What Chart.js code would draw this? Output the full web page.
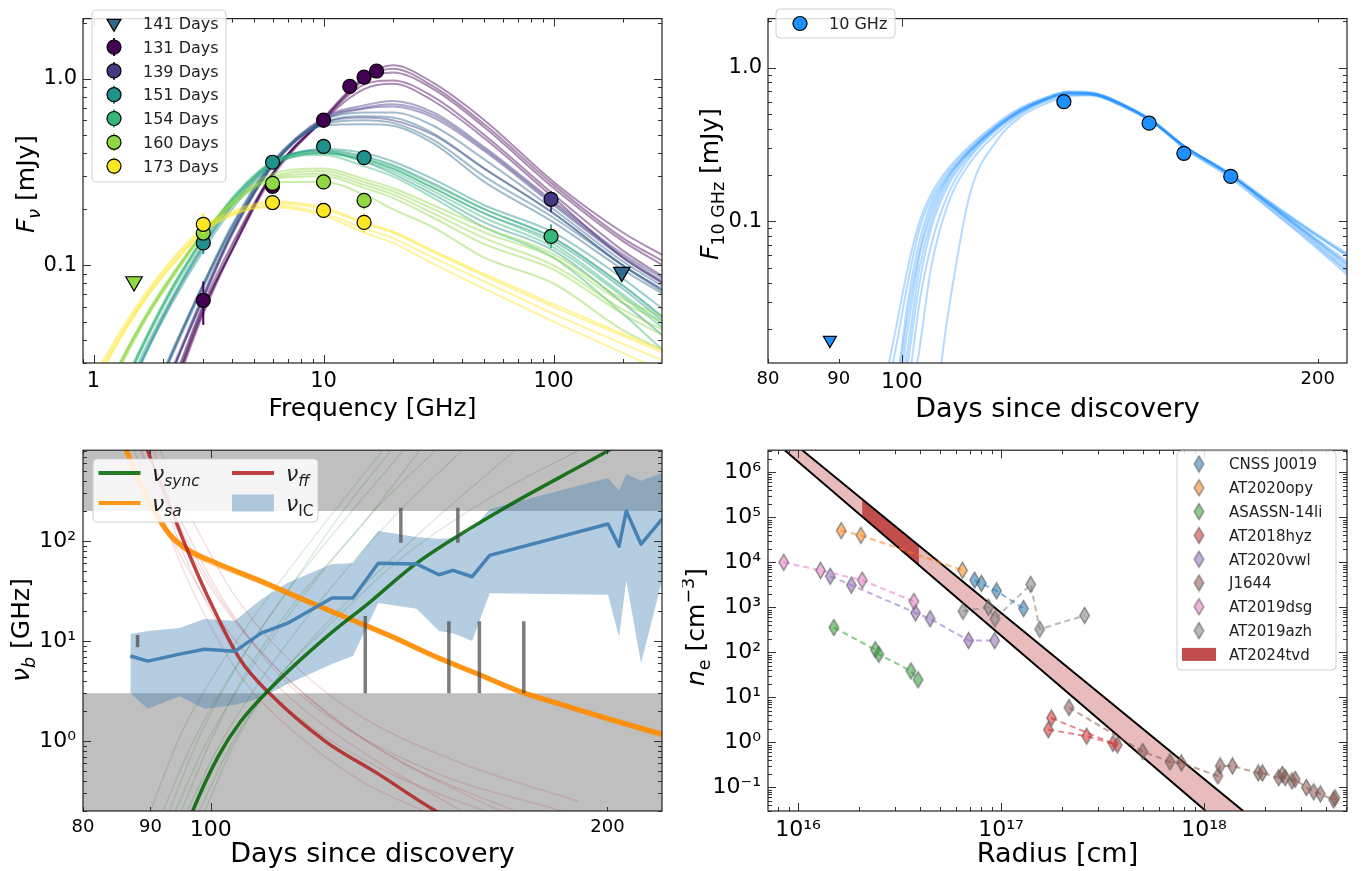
<!DOCTYPE html>
<html>
<head>
<meta charset="utf-8">
<title>AT2024tvd radio panels</title>
<script src="https://cdn.jsdelivr.net/npm/chart.js@4.4.1/dist/chart.umd.min.js"></script>
<style>
  html, body { margin: 0; padding: 0; background: #fff; }
  #fig { position: relative; width: 1364px; height: 871px; overflow: hidden; }
  #fig canvas { position: absolute; }
</style>
</head>
<body>
<div id="fig">
  <canvas id="sed" width="682" height="430" style="left:0;top:0"></canvas>
  <canvas id="lc" width="682" height="430" style="left:682px;top:0"></canvas>
  <canvas id="nub" width="682" height="441" style="left:0;top:430px"></canvas>
  <canvas id="dens" width="682" height="441" style="left:682px;top:430px"></canvas>
</div>
<script>
const FONT = '"DejaVu Sans", sans-serif'

// ---------- panel 1: spectra ----------
const freqGrid = [1, 1.3, 1.7, 2.2, 3, 4, 6, 10, 15, 20, 30, 50, 100, 200, 300]
const epochNames = ['131 Days', '139 Days', '141 Days', '151 Days', '154 Days', '160 Days', '173 Days']
const epochColors = ['#440154', '#443983', '#31688e', '#21918c', '#35b779', '#90d743', '#fde725']

const sed131 = [
  [.002, .004, .009, .02, .055, .12, .31, .62, 1.02, 1.18, .95, .6, .28, .15, .113],
  [.002, .004, .01, .022, .06, .12, .30, .60, .93, .98, .8, .5, .24, .12, .087],
  [.002, .004, .009, .021, .058, .12, .31, .61, .98, 1.08, .88, .55, .26, .135, .1],
  [.002, .005, .01, .023, .062, .13, .31, .6, .88, .94, .76, .48, .23, .11, .08],
  [.002, .004, .009, .021, .057, .125, .31, .61, 1.0, 1.13, .91, .57, .27, .14, .105]
]
const sed139 = [
  [.003, .006, .012, .027, .068, .15, .35, .62, .72, .76, .66, .43, .22, .115, .085],
  [.003, .006, .013, .028, .07, .15, .34, .58, .62, .6, .5, .33, .19, .1, .074],
  [.003, .006, .012, .027, .066, .145, .34, .6, .69, .71, .62, .41, .21, .11, .08],
  [.003, .006, .012, .027, .067, .148, .345, .61, .7, .73, .64, .42, .215, .112, .082]
]
const sed141 = [
  [.004, .008, .016, .034, .078, .16, .35, .57, .6, .58, .47, .3, .18, .1, .073],
  [.004, .008, .016, .033, .076, .155, .345, .56, .57, .56, .45, .28, .17, .095, .07],
  [.004, .008, .017, .035, .08, .165, .36, .6, .66, .66, .56, .37, .2, .105, .077],
  [.004, .008, .016, .034, .079, .16, .355, .58, .63, .62, .51, .33, .19, .1, .072]
]
const sed151 = [
  [.008, .017, .035, .065, .125, .21, .35, .42, .4, .36, .29, .21, .15, .085, .058],
  [.008, .016, .034, .063, .12, .2, .34, .4, .37, .33, .26, .19, .135, .075, .05],
  [.009, .018, .037, .068, .13, .22, .36, .41, .36, .31, .24, .17, .12, .063, .042],
  [.008, .017, .035, .066, .127, .21, .35, .415, .385, .345, .275, .2, .14, .078, .052]
]
const sed154 = [
  [.01, .02, .04, .073, .135, .22, .35, .4, .36, .32, .25, .18, .125, .068, .046],
  [.01, .02, .041, .075, .14, .225, .35, .39, .34, .3, .23, .16, .11, .055, .035],
  [.01, .021, .042, .077, .14, .23, .36, .41, .38, .34, .27, .2, .14, .078, .053],
  [.01, .02, .041, .076, .14, .226, .355, .4, .37, .33, .26, .19, .13, .07, .048]
]
const sed160 = [
  [.014, .028, .052, .085, .145, .21, .3, .32, .28, .25, .2, .15, .11, .063, .05],
  [.015, .03, .055, .09, .15, .215, .29, .3, .26, .23, .18, .13, .095, .055, .042],
  [.014, .029, .053, .087, .148, .22, .31, .33, .29, .26, .21, .16, .115, .066, .053],
  [.015, .03, .054, .088, .15, .21, .28, .28, .24, .2, .16, .11, .08, .045, .035],
  [.014, .029, .054, .088, .15, .215, .295, .31, .27, .24, .19, .14, .1, .058, .045]
]
const sed173 = [
  [.024, .042, .07, .105, .155, .19, .215, .2, .168, .15, .118, .088, .06, .042, .034],
  [.022, .04, .067, .1, .15, .185, .21, .19, .158, .14, .11, .082, .055, .038, .031],
  [.025, .044, .072, .108, .16, .195, .22, .205, .17, .152, .12, .09, .062, .043, .035],
  [.023, .041, .068, .102, .152, .188, .205, .185, .15, .132, .102, .075, .05, .034, .027]
]
// [GHz, mJy, low, high]
const det131 = [[3, .065, .048, .082], [6, .265, .245, .285], [10, .60, .545, .65], [13, .91, .85, .97], [15, 1.02, .95, 1.09], [17, 1.10, 1.03, 1.17]]
const det139 = [[97.5, .226, .193, .25]]
const det151 = [[3, .132, .115, .15], [6, .357, .33, .385], [10, .434, .40, .47], [15, .378, .35, .41]]
const det154 = [[97.5, .143, .124, .166]]
const det160 = [[3, .149, .135, .165], [6, .275, .255, .295], [10, .28, .255, .305], [15, .223, .2, .245]]
const det173 = [[3, .166, .148, .19], [6, .217, .2, .235], [10, .197, .18, .215], [15, .170, .15, .19]]
const lim141 = [[198, .092]]
const lim160 = [[1.5, .082]]

// ---------- panel 2: 10 GHz light curve ----------
const lcDays = [97, 99, 101, 103, 105, 108, 112, 117, 122, 127, 132, 137, 145, 152, 160, 173, 185, 200, 210]
const lcModels = [
  [.004, .008, .03, .075, .13, .2, .29, .41, .53, .62, .68, .68, .57, .45, .31, .2, .125, .072, .05],
  [.002, .005, .015, .05, .1, .18, .28, .4, .52, .62, .68, .67, .56, .44, .31, .2, .128, .076, .055],
  [.006, .015, .04, .09, .14, .21, .3, .42, .54, .63, .69, .68, .56, .44, .3, .195, .12, .068, .047],
  [.001, .003, .008, .03, .07, .15, .26, .39, .51, .61, .67, .67, .56, .44, .31, .2, .13, .08, .06],
  [.003, .006, .02, .06, .11, .19, .285, .41, .53, .63, .69, .685, .57, .45, .31, .2, .124, .07, .048],
  [.008, .02, .05, .1, .15, .22, .31, .43, .55, .64, .7, .69, .57, .44, .3, .19, .118, .066, .045],
  [.001, .002, .005, .015, .05, .13, .24, .37, .5, .6, .66, .66, .55, .44, .31, .205, .133, .082, .062],
  [.002, .004, .012, .04, .09, .17, .27, .4, .52, .62, .68, .67, .56, .44, .305, .198, .126, .074, .053],
  [.0002, .0005, .001, .002, .004, .025, .15, .33, .48, .58, .65, .66, .55, .44, .31, .2, .13, .08, .06],
  [.003, .007, .025, .065, .12, .195, .29, .41, .53, .62, .68, .675, .565, .445, .31, .2, .127, .074, .052]
]
const lcDet = [[131, .60], [151, .435], [160, .277], [173, .196]]
const lcLim = [[88.7, .0169]]

// ---------- panel 3: break frequencies ----------
const saDays = [86, 88, 90, 93, 96, 101, 109, 118, 127, 137, 148, 160, 172, 186, 200, 220]
const saNu = [900, 430, 235, 118, 82, 60, 40, 25.5, 17, 11.2, 7.0, 4.6, 3.1, 2.25, 1.68, 1.17]
const saDraws = [
  [1000, 470, 255, 126, 87, 63, 42, 26.5, 17.6, 11.6, 7.3, 4.8, 3.25, 2.35, 1.76, 1.24],
  [800, 390, 215, 110, 77, 56, 38, 24.3, 16.3, 10.7, 6.7, 4.4, 2.95, 2.15, 1.6, 1.1],
  [950, 450, 245, 122, 85, 62, 41, 26, 17.3, 11.4, 7.1, 4.7, 3.15, 2.3, 1.72, 1.2]
]
const ffDays = [88.5, 89.6, 92.6, 95.6, 99.6, 105.3, 111.1, 122.1, 134, 148.2, 152]
const ffNu = [1400, 794, 271, 93, 27, 6.5, 2.9, 1.0, 0.47, 0.2, 0.17]
const ffDraws = [
  [[87, 1000], [90, 300], [94, 90], [100, 22], [108, 6], [118, 2], [132, .7], [155, .2]],
  [[88, 1000], [91, 350], [95, 110], [101, 28], [110, 7], [122, 2], [140, .6], [170, .2]],
  [[89, 1000], [92, 330], [96, 100], [102, 25], [110, 7], [120, 2.4], [135, .8], [160, .25], [175, .15]],
  [[90, 1000], [93, 300], [97, 90], [103, 22], [112, 5], [125, 1.5], [150, .45], [185, .2]],
  [[88, 1000], [91, 260], [94, 80], [99, 18], [106, 4], [116, 1.2], [130, .4], [145, .2]],
  [[91, 1000], [94, 350], [98, 120], [104, 30], [114, 7], [128, 2], [155, .6], [190, .25]],
  [[89, 1000], [92, 280], [95, 85], [100, 20], [107, 5], [119, 1.4], [138, .45], [165, .18]]
]
const syncDays = [95.5, 96.9, 101.3, 105.3, 111.1, 122.1, 132.3, 142.9, 165.6, 200, 206]
const syncNu = [0.12, 0.2, 0.7, 1.55, 3.4, 10.7, 25, 58.5, 200, 794, 1000]
const syncDraws = [
  [[90, .2], [95, 1.2], [101, 5], [110, 25], [122, 150], [135, 800]],
  [[92, .2], [97, 1], [104, 5], [114, 30], [128, 200], [140, 800]],
  [[94, .2], [99, .9], [107, 5], [118, 30], [133, 200], [148, 800]],
  [[96, .2], [101, .8], [109, 4], [121, 25], [138, 180], [155, 800]],
  [[98, .2], [104, 1], [112, 4], [125, 20], [145, 130], [170, 800]],
  [[93, .2], [98, 1.1], [105, 6], [115, 35], [126, 200], [137, 800]],
  [[99, .2], [104, .9], [111, 3.5], [122, 13], [140, 70], [165, 300], [190, 800]],
  [[95, .2], [100, 1], [106, 4.5], [116, 25], [130, 140], [144, 800]]
]
const icDays = [86.9, 89.6, 94.7, 98.9, 104.3, 109.2, 114.3, 123.6, 128.2, 134.0, 143.3, 149.0, 152.7, 157.9, 162.8, 200.2, 204.1, 206.7, 212.1, 220]
const icNu = [7.1, 6.3, 7.4, 8.3, 7.9, 12, 15, 27, 27, 60, 59, 46, 51, 44, 72, 148, 89, 200, 93, 166]
const icHi = [11.8, 12.6, 13.5, 16.6, 16, 26, 38, 59, 60, 126, 110, 105, 107, 130, 209, 427, 316, 468, 400, 480]
const icLo = [3.0, 2.1, 2.8, 2.1, 2.3, 2.7, 3.7, 5.9, 7.1, 24, 21, 12.6, 12, 10, 30, 29, 11, 40, 6, 40]
// [day, lowest GHz, highest GHz]
const obsBars = [[88, 8.7, 11.5], [131, 3, 17.8], [139.4, 96, 215], [151.6, 3, 15.8], [154, 96, 215], [159.9, 3, 15.8], [172.8, 3, 15.8]]
const bandLimits = [3, 200]

// ---------- panel 4: density profiles ----------
const tdeNames = ['CNSS J0019', 'AT2020opy', 'ASASSN-14li', 'AT2018hyz', 'AT2020vwl', 'J1644', 'AT2019dsg', 'AT2019azh']
const tdeColors = ['#1f77b4', '#ff7f0e', '#2ca02c', '#d62728', '#9467bd', '#8c564b', '#e377c2', '#7f7f7f']
const cnss = [[7.4e16, 4040], [8.0e16, 3420], [9.5e16, 2330], [1.29e17, 944]]
const opy = [[1.63e16, 5.1e4], [2.04e16, 4.0e4], [6.46e16, 6700]]
const asassn = [[1.50e16, 359], [2.40e16, 115], [2.5e16, 91], [3.6e16, 38.8], [3.9e16, 24.7]]
const hyzA = [[1.71e17, 1.92], [2.64e17, 1.38], [3.74e17, 0.88]]
const hyzB = [[1.77e17, 3.5], [3.56e17, 0.95]]
const vwl = [[1.44e16, 4930], [1.83e16, 3140], [3.79e16, 760], [4.47e16, 562], [6.92e16, 184], [9.3e16, 184]]
const j1644 = [[2.16e17, 5.98], [4.99e17, .63], [6.79e17, .37], [7.73e17, .35], [1.17e18, .18], [1.20e18, .30], [1.38e18, .30], [1.85e18, .21], [1.94e18, .21], [2.33e18, .165], [2.43e18, .195], [2.51e18, .165], [2.71e18, .14], [2.81e18, .152], [3.19e18, .1], [3.47e18, .08], [3.74e18, .072], [4.35e18, .053], [4.41e18, .059]]
const dsg = [[8.5e15, 1.01e4], [1.29e16, 6660], [2.07e16, 4040], [3.72e16, 1360]]
const azh = [[6.49e16, 826], [8.66e16, 1008], [9.33e16, 560], [1.40e17, 3250], [1.55e17, 330], [2.58e17, 665]]
const tdeSeries = [[cnss], [opy], [asassn], [hyzA, hyzB], [vwl], [j1644], [dsg], [azh]]
const tvdEdgeLo = [[8.6e15, 3.1e6], [1.02e18, 0.03]]
const tvdEdgeHi = [[1.05e16, 3.1e6], [1.56e18, 0.03]]
const tvdMeasured = [[2.07e16, 2.52e5], [3.94e16, 2.35e4], [3.94e16, 8.6e3], [2.07e16, 1.035e5]]

// ---------- helpers ----------
const hexA = (h, a) => {
  const n = parseInt(h.slice(1), 16)
  return `rgba(${n >> 16},${(n >> 8) & 255},${n & 255},${a})`
}
const pts = (xs, ys) => ys.map((v, i) => ({x: xs[i], y: v}))
const pairs = arr => arr.map(p => ({x: p[0], y: p[1]}))
const stack = list => list.map((d, i) => Object.assign({order: list.length - i}, d))

function curve(data, color, width, extra) {
  return Object.assign({data, showLine: true, borderColor: color, borderWidth: width, pointRadius: 0,
    cubicInterpolationMode: 'monotone', fill: false}, extra || {})
}
const straight = {cubicInterpolationMode: 'default', tension: 0}

function logMinor(lo, hi) {
  const out = []
  for (let e = Math.floor(Math.log10(lo)); e <= Math.ceil(Math.log10(hi)); e++) {
    for (let k = 2; k <= 9; k++) {
      const v = k * Math.pow(10, e)
      if (v >= lo * 0.999 && v <= hi * 1.001) out.push(v)
    }
  }
  return out
}

const SUP = {'-': '⁻', '0': '⁰', '1': '¹', '2': '²', '3': '³', '4': '⁴', '5': '⁵', '6': '⁶', '7': '⁷', '8': '⁸', '9': '⁹'}
const pow10 = v => '10' + String(Math.round(Math.log10(v))).split('').map(c => SUP[c]).join('')

function richText(ctx, parts, x, y, size, align, color) {
  const segs = parts.map(p => {
    const s = (p.sub || p.sup) ? size * 0.7 : size
    const f = (p.it ? 'italic ' : '') + s.toFixed(1) + 'px ' + FONT
    ctx.font = f
    return {t: p.t, f, w: ctx.measureText(p.t).width, dy: p.sub ? size * 0.24 : p.sup ? -size * 0.42 : 0}
  })
  const total = segs.reduce((a, s) => a + s.w, 0)
  let cx = align === 'center' ? x - total / 2 : x
  const base = y + size * 0.36
  ctx.fillStyle = color || '#000'
  ctx.textBaseline = 'alphabetic'
  ctx.textAlign = 'left'
  segs.forEach(s => { ctx.font = s.f; ctx.fillText(s.t, cx, base + s.dy); cx += s.w })
}

function thinDiamond(fill, edge) {
  const c = document.createElement('canvas')
  c.width = 13; c.height = 19
  const g = c.getContext('2d')
  g.beginPath()
  g.moveTo(6.5, 1.5); g.lineTo(11.2, 9.5); g.lineTo(6.5, 17.5); g.lineTo(1.8, 9.5); g.closePath()
  g.fillStyle = fill; g.fill()
  g.lineWidth = 1.3; g.strokeStyle = edge; g.stroke()
  return c
}

function drawMark(ctx, m, x, y) {
  ctx.save()
  if (m.kind === 'circle' || m.kind === 'tri') {
    if (m.err) {
      ctx.strokeStyle = m.fill; ctx.lineWidth = 2
      ctx.beginPath(); ctx.moveTo(x, y - 9); ctx.lineTo(x, y + 9); ctx.stroke()
    }
    ctx.beginPath()
    if (m.kind === 'circle') ctx.arc(x, y, m.r, 0, Math.PI * 2)
    else { ctx.moveTo(x - m.r * 0.87, y - m.r * 0.5); ctx.lineTo(x + m.r * 0.87, y - m.r * 0.5); ctx.lineTo(x, y + m.r); ctx.closePath() }
    ctx.fillStyle = m.fill; ctx.fill()
    ctx.lineWidth = 1.2; ctx.strokeStyle = '#000'; ctx.stroke()
  } else if (m.kind === 'line') {
    ctx.strokeStyle = m.color; ctx.lineWidth = m.w
    ctx.beginPath(); ctx.moveTo(x - m.half, y); ctx.lineTo(x + m.half, y); ctx.stroke()
  } else if (m.kind === 'patch') {
    ctx.fillStyle = m.color
    ctx.fillRect(x - m.half, y - m.h / 2, m.half * 2, m.h)
  } else if (m.kind === 'img') {
    ctx.drawImage(m.img, x - m.img.width / 2, y - m.img.height / 2)
  }
  ctx.restore()
}

// one decoration plugin per panel: error bars, inward ticks, frame, legend, y title
function decor(cfg) {
  return {
    id: 'decor',
    beforeDatasetDraw(chart, args) {
      const ds = chart.data.datasets[args.index]
      if (!ds.errColor) return
      const {ctx, scales: {x, y}} = chart
      ctx.save()
      ctx.strokeStyle = ds.errColor; ctx.lineWidth = 2
      ds.data.forEach(p => {
        const px = x.getPixelForValue(p.x)
        ctx.beginPath(); ctx.moveTo(px, y.getPixelForValue(p.lo)); ctx.lineTo(px, y.getPixelForValue(p.hi)); ctx.stroke()
      })
      ctx.restore()
    },
    afterDatasetsDraw(chart) {
      const {ctx, chartArea: a, scales: {x, y}} = chart
      ctx.save()
      ctx.strokeStyle = '#333'; ctx.lineWidth = 1
      const mark = (scale, vals, len) => vals.forEach(v => {
        if (v < scale.min || v > scale.max) return
        const p = Math.round(scale.getPixelForValue(v)) + 0.5
        ctx.beginPath()
        if (scale.isHorizontal()) {
          ctx.moveTo(p, a.bottom); ctx.lineTo(p, a.bottom - len)
          ctx.moveTo(p, a.top); ctx.lineTo(p, a.top + len)
        } else {
          ctx.moveTo(a.left, p); ctx.lineTo(a.left + len, p)
          ctx.moveTo(a.right, p); ctx.lineTo(a.right - len, p)
        }
        ctx.stroke()
      })
      mark(x, cfg.xTicks[0], 8); mark(x, cfg.xTicks[1], 4)
      mark(y, cfg.yTicks[0], 8); mark(y, cfg.yTicks[1], 4)
      ctx.strokeStyle = '#222'; ctx.lineWidth = 1.2
      ctx.strokeRect(a.left, a.top, a.right - a.left, a.bottom - a.top)
      ctx.restore()
    },
    afterDraw(chart) {
      const ctx = chart.ctx
      const L = cfg.legend
      if (L) {
        const [bx, by, bw, bh] = L.box
        ctx.save()
        ctx.beginPath()
        ctx.moveTo(bx + 4, by); ctx.arcTo(bx + bw, by, bx + bw, by + bh, 4); ctx.arcTo(bx + bw, by + bh, bx, by + bh, 4)
        ctx.arcTo(bx, by + bh, bx, by, 4); ctx.arcTo(bx, by, bx + bw, by, 4); ctx.closePath()
        ctx.fillStyle = 'rgba(255,255,255,0.85)'; ctx.fill()
        ctx.strokeStyle = '#cfcfcf'; ctx.lineWidth = 1; ctx.stroke()
        L.items.forEach((it, k) => {
          const col = L.cols[it.col || 0]
          const row = it.row !== undefined ? it.row : k
          const yy = L.y0 + row * L.dy
          drawMark(ctx, it.mark, col.mx, yy)
          richText(ctx, it.text, col.tx, yy, L.size, 'left', '#222')
        })
        ctx.restore()
      }
      const T = cfg.ytitle
      if (T) {
        ctx.save()
        ctx.translate(T.x, T.y); ctx.rotate(-Math.PI / 2)
        richText(ctx, T.parts, 0, 0, T.size, 'center', '#000')
        ctx.restore()
      }
    }
  }
}

function logScale(o, axis, band) {
  return {
    type: 'logarithmic', min: o.min, max: o.max, bounds: 'data',
    grid: {display: false, drawTicks: false}, border: {display: false},
    afterBuildTicks: s => { s.ticks = o.labels.map(v => ({value: v})) },
    afterFit: s => { if (axis === 'x') s.height = band; else s.width = band },
    ticks: {
      autoSkip: false, maxRotation: 0, padding: o.pad, color: '#000',
      callback: v => o.fmt(v),
      font: c => ({family: FONT, size: (o.big && c.tick && c.tick.value === o.big) ? o.bigSize : o.size})
    },
    title: o.title
      ? {display: true, text: o.title, color: '#000', font: {family: FONT, size: o.titleSize}, padding: {top: 0, bottom: o.titlePad}}
      : {display: false}
  }
}

function baseOptions(c) {
  const [l, t, r, b] = c.area
  return {
    responsive: false, animation: false, devicePixelRatio: 1,
    layout: {padding: {left: 0, top: t, right: c.W - r, bottom: 0}},
    scales: {x: logScale(c.x, 'x', c.H - b), y: logScale(c.y, 'y', l)},
    plugins: {legend: {display: false}, tooltip: {enabled: false}},
    elements: {line: {borderJoinStyle: 'round'}}
  }
}

// ---------- panel 1 ----------
const sedModels = [sed131, sed139, sed141, sed151, sed154, sed160, sed173]
const sedDets = [det131, det139, [], det151, det154, det160, det173]
const sedSets = []
sedModels.forEach((group, e) => group.forEach(vals =>
  sedSets.push(curve(pts(freqGrid, vals), hexA(epochColors[e], 0.45), 2))))
sedDets.forEach((d, e) => {
  if (!d.length) return
  sedSets.push({data: d.map(p => ({x: p[0], y: p[1], lo: p[2], hi: p[3]})), showLine: false,
    pointRadius: 7, pointBackgroundColor: epochColors[e], pointBorderColor: '#000', pointBorderWidth: 1.2, errColor: epochColors[e]})
})
const triangles = (d, color) => ({data: pairs(d), showLine: false, pointStyle: 'triangle', pointRotation: 180,
  pointRadius: 9.5, pointBackgroundColor: color, pointBorderColor: '#000', pointBorderWidth: 1.2})
sedSets.push(triangles(lim141, epochColors[2]), triangles(lim160, epochColors[5]))

const sedLegendOrder = [2, 0, 1, 3, 4, 5, 6]
new Chart(document.getElementById('sed'), {
  type: 'scatter',
  data: {datasets: stack(sedSets)},
  options: baseOptions({
    area: [83, 2, 662, 363], W: 682, H: 430,
    x: {min: 0.9, max: 296, labels: [1, 10, 100], fmt: v => String(v), size: 21, pad: 6, title: 'Frequency [GHz]', titleSize: 25, titlePad: 6},
    y: {min: 0.03, max: 2.1, labels: [0.1, 1], fmt: v => v >= 1 ? '1.0' : '0.1', size: 21, pad: 6}
  }),
  plugins: [decor({
    xTicks: [[1, 10, 100], logMinor(0.9, 296)],
    yTicks: [[0.1, 1], logMinor(0.03, 2.1)],
    legend: {
      box: [92, 10, 134, 172], y0: 23.3, dy: 23.8, size: 16, cols: [{mx: 114, tx: 143}],
      items: sedLegendOrder.map(e => ({
        mark: e === 2 ? {kind: 'tri', r: 8, fill: epochColors[e]} : {kind: 'circle', r: 7, fill: epochColors[e], err: true},
        text: [{t: epochNames[e]}]
      }))
    },
    ytitle: {x: 25, y: 184, size: 25, parts: [{t: 'F', it: 1}, {t: 'ν', it: 1, sub: 1}, {t: ' [mJy]'}]}
  })]
})

// ---------- panel 2 ----------
const LC_BLUE = '#1e90ff'
const lcSets = lcModels.map(vals => curve(pts(lcDays, vals), hexA(LC_BLUE, 0.33), 2))
lcSets.push({data: pairs(lcDet), showLine: false, pointRadius: 7, pointBackgroundColor: LC_BLUE, pointBorderColor: '#000', pointBorderWidth: 1.2})
lcSets.push({data: pairs(lcLim), showLine: false, pointStyle: 'triangle', pointRotation: 180, pointRadius: 7.5,
  pointBackgroundColor: LC_BLUE, pointBorderColor: '#000', pointBorderWidth: 1.2})

new Chart(document.getElementById('lc'), {
  type: 'scatter',
  data: {datasets: stack(lcSets)},
  options: baseOptions({
    area: [86, 2, 665, 363], W: 682, H: 430,
    x: {min: 80, max: 210, labels: [80, 90, 100, 200], fmt: v => String(v), size: 18, big: 100, bigSize: 22, pad: 6,
      title: 'Days since discovery', titleSize: 27, titlePad: 4},
    y: {min: 0.012, max: 2.08, labels: [0.1, 1], fmt: v => v >= 1 ? '1.0' : '0.1', size: 21, pad: 6}
  }),
  plugins: [decor({
    xTicks: [[100], [80, 90, 200]],
    yTicks: [[0.1, 1], logMinor(0.012, 2.08)],
    legend: {
      box: [94, 9, 119, 29], y0: 23.5, dy: 0, size: 16, cols: [{mx: 118, tx: 147}],
      items: [{mark: {kind: 'circle', r: 7, fill: LC_BLUE}, text: [{t: '10 GHz'}]}]
    },
    ytitle: {x: 27, y: 184, size: 25, parts: [{t: 'F', it: 1}, {t: '10 GHz', sub: 1}, {t: ' [mJy]'}]}
  })]
})

// ---------- panel 3 ----------
const SYNC = 'rgba(0,100,0,0.85)', FF = 'rgba(178,34,34,0.85)', SA = 'rgba(255,140,0,0.9)', IC = '#4682b4'
const clear = 'rgba(0,0,0,0)'
const nubSets = [
  curve(pairs([[80, bandLimits[1]], [220, bandLimits[1]]]), clear, 0, Object.assign({fill: 'end', backgroundColor: 'rgba(128,128,128,0.5)'}, straight)),
  curve(pairs([[80, bandLimits[0]], [220, bandLimits[0]]]), clear, 0, Object.assign({fill: 'start', backgroundColor: 'rgba(128,128,128,0.5)'}, straight)),
  curve(pts(icDays, icLo), clear, 0, straight),
  curve(pts(icDays, icHi), clear, 0, Object.assign({fill: '-1', backgroundColor: 'rgba(70,130,180,0.4)'}, straight))
]
ffDraws.forEach(d => nubSets.push(curve(pairs(d), 'rgba(178,34,34,0.14)', 1.5)))
syncDraws.forEach(d => nubSets.push(curve(pairs(d), 'rgba(0,100,0,0.13)', 1.5)))
saDraws.forEach(v => nubSets.push(curve(pts(saDays, v), 'rgba(255,140,0,0.25)', 2)))
nubSets.push(curve(pts(saDays, saNu), SA, 5))
nubSets.push(curve(pts(ffDays, ffNu), FF, 3.5))
nubSets.push(curve(pts(syncDays, syncNu), SYNC, 3.5))
nubSets.push(curve(pts(icDays, icNu), IC, 3.5, straight))
obsBars.forEach(b => nubSets.push(curve(pairs([[b[0], b[1]], [b[0], b[2]]]), 'rgba(70,70,70,0.7)', 3.5, straight)))

new Chart(document.getElementById('nub'), {
  type: 'scatter',
  data: {datasets: stack(nubSets)},
  options: baseOptions({
    area: [83, 19, 662, 381], W: 682, H: 441,
    x: {min: 80, max: 220, labels: [80, 90, 100, 200], fmt: v => String(v), size: 18, big: 100, bigSize: 22, pad: 6,
      title: 'Days since discovery', titleSize: 27, titlePad: 0},
    y: {min: 0.2, max: 810, labels: [1, 10, 100], fmt: pow10, size: 22, pad: 7}
  }),
  plugins: [decor({
    xTicks: [[100], [80, 90, 200]],
    yTicks: [[1, 10, 100], logMinor(0.2, 810)],
    legend: {
      box: [93, 29, 225, 63], y0: 43, dy: 30, size: 22,
      cols: [{mx: 119.5, tx: 152}, {mx: 253, tx: 286}],
      items: [
        {col: 0, row: 0, mark: {kind: 'line', color: SYNC, w: 4, half: 21}, text: [{t: 'ν', it: 1}, {t: 'sync', it: 1, sub: 1}]},
        {col: 0, row: 1, mark: {kind: 'line', color: SA, w: 4, half: 21}, text: [{t: 'ν', it: 1}, {t: 'sa', it: 1, sub: 1}]},
        {col: 1, row: 0, mark: {kind: 'line', color: FF, w: 4, half: 21}, text: [{t: 'ν', it: 1}, {t: 'ff', it: 1, sub: 1}]},
        {col: 1, row: 1, mark: {kind: 'patch', color: 'rgba(70,130,180,0.4)', half: 21, h: 17}, text: [{t: 'ν', it: 1}, {t: 'IC', sub: 1}]}
      ]
    },
    ytitle: {x: 20, y: 200, size: 25, parts: [{t: 'ν', it: 1}, {t: 'b', it: 1, sub: 1}, {t: ' [GHz]'}]}
  })]
})

// ---------- panel 4 ----------
const diamonds = tdeColors.map(c => thinDiamond(hexA(c, 0.55), 'rgba(100,100,100,0.8)'))
const densSets = [
  curve(pairs([tvdEdgeLo[0], tvdEdgeLo[1], tvdEdgeHi[1], tvdEdgeHi[0]]), clear, 0, Object.assign({fill: 'shape', backgroundColor: 'rgba(178,34,34,0.3)'}, straight)),
  curve(pairs(tvdMeasured), clear, 0, Object.assign({fill: 'shape', backgroundColor: 'rgba(178,34,34,0.72)'}, straight)),
  curve(pairs(tvdEdgeLo), '#000', 2, straight),
  curve(pairs(tvdEdgeHi), '#000', 2, straight)
]
tdeSeries.forEach((group, k) => group.forEach(s => densSets.push({
  data: pairs(s), showLine: true, borderColor: hexA(tdeColors[k], 0.55), borderWidth: 2, borderDash: [6, 4],
  tension: 0, pointStyle: diamonds[k], pointRadius: 6
})))

new Chart(document.getElementById('dens'), {
  type: 'scatter',
  data: {datasets: stack(densSets)},
  options: baseOptions({
    area: [86, 12, 665, 381], W: 682, H: 441,
    x: {min: 7.11e15, max: 5.06e18, labels: [1e16, 1e17, 1e18], fmt: pow10, size: 22, pad: 6, title: 'Radius [cm]', titleSize: 27, titlePad: 0},
    y: {min: 0.03, max: 3.12e6, labels: [0.1, 1, 10, 100, 1e3, 1e4, 1e5, 1e6], fmt: pow10, size: 22, pad: 7}
  }),
  plugins: [decor({
    xTicks: [[1e16, 1e17, 1e18], logMinor(7.11e15, 5.06e18)],
    yTicks: [[0.1, 1, 10, 100, 1e3, 1e4, 1e5, 1e6], logMinor(0.03, 3.12e6)],
    legend: {
      box: [495, 21, 159, 219], y0: 34, dy: 23.8, size: 15, cols: [{mx: 517, tx: 547}],
      items: tdeNames.map((n, k) => ({mark: {kind: 'img', img: diamonds[k]}, text: [{t: n}]}))
        .concat([{mark: {kind: 'patch', color: 'rgba(178,34,34,0.8)', half: 17, h: 13}, text: [{t: 'AT2024tvd'}]}])
    },
    ytitle: {x: 13, y: 197, size: 25, parts: [{t: 'n', it: 1}, {t: 'e', sub: 1}, {t: ' [cm'}, {t: '−3', sup: 1}, {t: ']'}]}
  })]
})
</script>
</body>
</html>
